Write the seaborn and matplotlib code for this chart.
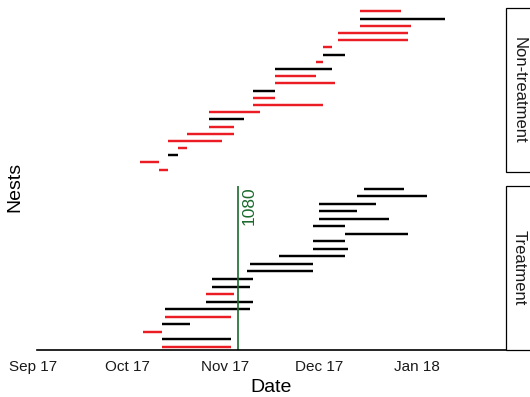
import pandas as pd
import matplotlib
matplotlib.use("Agg")
import matplotlib.pyplot as plt
import matplotlib.dates as mdates
from matplotlib.patches import Rectangle
import seaborn as sns

# Nest active periods, listed from the bottom of each panel upward
nt_start = ["2017-10-11", "2017-10-05", "2017-10-14", "2017-10-17", "2017-10-14",
            "2017-10-20", "2017-10-27", "2017-10-27", "2017-10-27", "2017-11-10",
            "2017-11-10", "2017-11-10", "2017-11-17", "2017-11-17", "2017-11-17",
            "2017-11-30", "2017-12-02", "2017-12-02", "2017-12-07", "2017-12-07",
            "2017-12-14", "2017-12-14", "2017-12-14"]
nt_end = ["2017-10-14", "2017-10-11", "2017-10-17", "2017-10-20", "2017-10-31",
          "2017-11-04", "2017-11-04", "2017-11-07", "2017-11-12", "2017-12-02",
          "2017-11-17", "2017-11-17", "2017-12-06", "2017-11-30", "2017-12-05",
          "2017-12-02", "2017-12-09", "2017-12-05", "2017-12-29", "2017-12-29",
          "2017-12-30", "2018-01-10", "2017-12-27"]
nt_colour = ["red", "red", "black", "red", "red", "red", "red", "black", "red", "red",
             "red", "black", "red", "red", "black", "red", "black", "red", "red", "red",
             "red", "black", "red"]

tr_start = ["2017-10-12", "2017-10-12", "2017-10-06", "2017-10-12", "2017-10-13",
            "2017-10-13", "2017-10-26", "2017-10-26", "2017-10-28", "2017-10-28",
            "2017-11-08", "2017-11-09", "2017-11-18", "2017-11-29", "2017-11-29",
            "2017-12-09", "2017-11-29", "2017-12-01", "2017-12-01", "2017-12-01",
            "2017-12-13", "2017-12-15"]
tr_end = ["2017-11-03", "2017-11-03", "2017-10-12", "2017-10-21", "2017-11-03",
          "2017-11-09", "2017-11-10", "2017-11-04", "2017-11-09", "2017-11-10",
          "2017-11-29", "2017-11-29", "2017-12-09", "2017-12-10", "2017-12-09",
          "2017-12-29", "2017-12-09", "2017-12-23", "2017-12-13", "2017-12-19",
          "2018-01-04", "2017-12-28"]
tr_colour = ["red", "black", "red", "black", "red", "black", "black", "red", "black",
             "black", "black", "black", "black", "black", "black", "black", "black",
             "black", "black", "black", "black", "black"]

panel_labels = ["Non-treatment", "Treatment"]
bait_date = "2017-11-05"
bait_label = "1080"
tick_dates = ["2017-09-01", "2017-10-01", "2017-11-01", "2017-12-01", "2018-01-01"]

palette = {"red": "#ec1c24", "black": "#000000"}
green = "#1b6b2b"

sns.set_theme(style="white")
plt.rcParams["font.family"] = ["Liberation Sans", "DejaVu Sans"]
plt.rcParams["lines.solid_capstyle"] = "butt"


def segments(starts, ends, colours):
    rows = []
    for i, (s, e, c) in enumerate(zip(starts, ends, colours)):
        rows.append({"nest": i, "date": pd.Timestamp(s), "colour": c})
        rows.append({"nest": i, "date": pd.Timestamp(e), "colour": c})
    return pd.DataFrame(rows)


fig = plt.figure(figsize=(5.3, 3.97), dpi=100)
W, H = 530, 397
left_px, right_px = 33, 506
ax_top = fig.add_axes([left_px / W, 1 - 172 / H, (right_px - left_px) / W, 164 / H])
ax_bot = fig.add_axes([left_px / W, 1 - 350 / H, (right_px - left_px) / W, 164 / H])

x0 = pd.Timestamp("2017-09-01")
x1 = x0 + pd.Timedelta(days=150.25)

panels = [
    (ax_top, segments(nt_start, nt_end, nt_colour), (-0.32, 22.46)),
    (ax_bot, segments(tr_start, tr_end, tr_colour), (-0.44, 21.37)),
]

for ax, df, ylim in panels:
    sns.lineplot(data=df, x="date", y="nest", hue="colour", units="nest",
                 estimator=None, sort=False, palette=palette, linewidth=1.75,
                 legend=False, ax=ax)
    ax.set_xlim(x0, x1)
    ax.set_ylim(*ylim)
    ax.set_yticks([])
    ax.set_xlabel("")
    ax.set_ylabel("")
    for side in ("left", "right", "top", "bottom"):
        ax.spines[side].set_visible(False)
    ax.patch.set_alpha(0)

ax_top.set_xticks([])

# Bottom date axis
ax_bot.spines["bottom"].set_visible(True)
ax_bot.spines["bottom"].set_color("black")
ax_bot.spines["bottom"].set_linewidth(1.2)
ax_bot.spines["bottom"].set_bounds(mdates.date2num(x0 + pd.Timedelta(days=1.2)),
                                   mdates.date2num(x1))
ax_bot.set_xticks([pd.Timestamp(d) for d in tick_dates])
ax_bot.xaxis.set_major_formatter(mdates.DateFormatter("%b %y"))
ax_bot.tick_params(axis="x", length=0, pad=7, labelsize=11, labelcolor="#1a1a1a")

# Bait drop line
bait = pd.Timestamp(bait_date)
ax_bot.axvline(bait, color=green, linewidth=1.2)
ax_bot.annotate(bait_label, xy=(bait, 1.0), xycoords=("data", "axes fraction"),
                xytext=(3, 0), textcoords="offset points", rotation=90,
                ha="left", va="top", fontsize=12.5, color=green)

# Facet strips on the right
for ax, label in zip((ax_top, ax_bot), panel_labels):
    strip = Rectangle((1.0, 0.0), 0.06, 1.0, transform=ax.transAxes,
                      facecolor="white", edgecolor="black", linewidth=0.9,
                      clip_on=False)
    ax.add_patch(strip)
    ax.text(1.0 + 13 / (right_px - left_px), 0.5, label, transform=ax.transAxes,
            rotation=-90, ha="center", va="center", fontsize=12, color="#1a1a1a")

fig.text(15 / W, 1 - 187 / H, "Nests", rotation=90, ha="center", va="center",
         fontsize=14, color="black")
fig.text(271 / W, 1 - 387 / H, "Date", ha="center", va="center",
         fontsize=14, color="black")

fig.savefig("out.png", dpi=100)
